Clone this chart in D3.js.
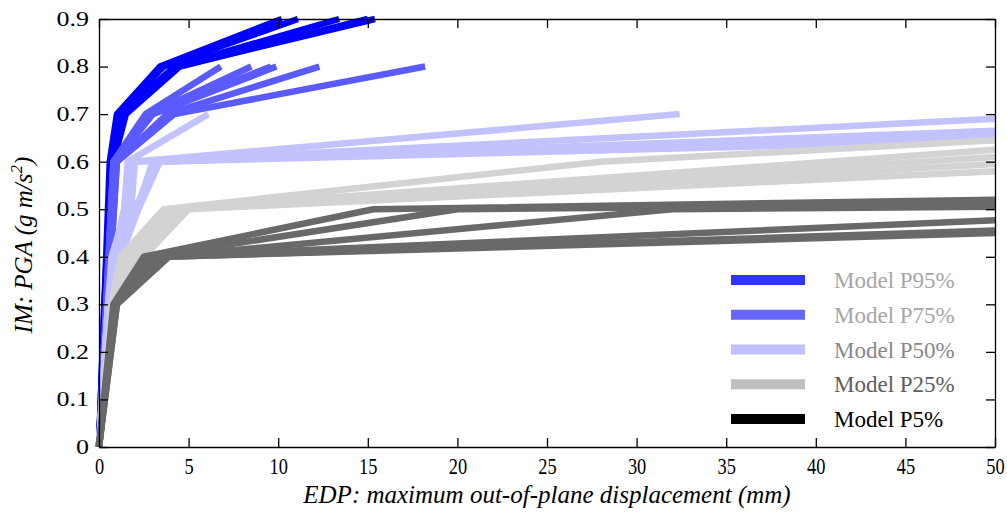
<!DOCTYPE html>
<html><head><meta charset="utf-8">
<script src="https://cdn.jsdelivr.net/npm/d3@7"></script>
<style>body{margin:0;background:#fff}</style>
</head><body>
<svg id="c" width="1007" height="515"></svg>
<script>
// ---- data ----
const seriesNames = ["Model P95%", "Model P75%", "Model P50%", "Model P25%", "Model P5%"];
const xTicks = [0, 5, 10, 15, 20, 25, 30, 35, 40, 45, 50];
const yTicks = [0, 0.1, 0.2, 0.3, 0.4, 0.5, 0.6, 0.7, 0.8, 0.9];
const xTitle = "EDP: maximum out-of-plane displacement (mm)";

// each curve: [EDP (mm), IM (g)] pairs
const p95Curves = [
  [[0,0],[0.3,0.3],[0.6,0.6],[1.0,0.7],[3.4,0.8],[10.2,0.9]],
  [[0,0],[0.3,0.3],[0.7,0.6],[1.1,0.7],[3.6,0.8],[11.1,0.9]],
  [[0,0],[0.35,0.3],[0.7,0.6],[1.3,0.7],[4.2,0.8],[13.4,0.9]],
  [[0,0],[0.35,0.3],[0.8,0.6],[1.5,0.7],[4.5,0.8],[15.0,0.9]],
  [[0,0],[0.4,0.3],[0.8,0.6],[1.4,0.7],[4.4,0.8],[15.4,0.9]]
];
const p75Curves = [
  [[0,0],[0.4,0.3],[0.8,0.6],[2.6,0.7],[6.8,0.8]],
  [[0,0],[0.4,0.3],[0.8,0.6],[2.8,0.7],[8.5,0.8]],
  [[0,0],[0.45,0.3],[0.9,0.6],[2.9,0.7],[9.6,0.8]],
  [[0,0],[0.45,0.3],[0.9,0.6],[3.0,0.7],[9.9,0.8]],
  [[0,0],[0.5,0.3],[1.0,0.6],[3.8,0.7],[12.3,0.8]],
  [[0,0],[0.5,0.3],[1.0,0.6],[4.2,0.7],[18.2,0.8]]
];
const p50Curves = [
  [[0,0],[0.5,0.3],[0.7,0.4],[1.5,0.5],[1.9,0.6],[32.4,0.7]],
  [[0,0],[0.5,0.3],[0.8,0.4],[1.4,0.5],[1.6,0.6],[6.1,0.7]],
  [[0,0],[0.5,0.3],[0.9,0.4],[1.8,0.5],[2.0,0.6],[50,0.69]],
  [[0,0],[0.55,0.3],[1.0,0.4],[2.0,0.5],[3.3,0.6],[50,0.665]],
  [[0,0],[0.55,0.3],[1.1,0.4],[2.1,0.5],[3.0,0.6],[50,0.655]],
  [[0,0],[0.6,0.3],[1.2,0.4],[2.2,0.5],[3.4,0.6],[50,0.645]]
];
const p25Curves = [
  [[0,0],[0.7,0.3],[1.2,0.4],[3.6,0.5],[28,0.6],[50,0.645]],
  [[0,0],[0.8,0.3],[1.5,0.4],[3.8,0.5],[50,0.625]],
  [[0,0],[0.8,0.3],[1.8,0.4],[4.3,0.5],[50,0.61]],
  [[0,0],[0.9,0.3],[2.2,0.4],[4.6,0.5],[50,0.595]],
  [[0,0],[0.9,0.3],[2.5,0.4],[5.0,0.5],[50,0.58]]
];
const p5Curves = [
  [[0,0],[0.8,0.3],[2.5,0.4],[15.3,0.5],[50,0.52]],
  [[0,0],[0.9,0.3],[2.8,0.4],[20,0.5],[50,0.51]],
  [[0,0],[0.9,0.3],[3.5,0.4],[32,0.5],[50,0.505]],
  [[0,0],[1.0,0.3],[3.0,0.4],[50,0.477]],
  [[0,0],[1.0,0.3],[3.9,0.4],[50,0.45]],
  [[0,0],[0.9,0.3],[3.7,0.4],[50,0.455]]
];

// ---- styles ----
const lineColors = ["#0000ff", "#5a5aff", "#c2c2ff", "#d3d3d3", "#696969"];
const legendColors = ["#3333ff", "#6666ff", "#c0c0ff", "#c0c0c0", "#000000"];
const legendTextColors = ["#a6a6a6", "#a6a6a6", "#888888", "#5e5e5e", "#000000"];

const allSeries = [p95Curves, p75Curves, p50Curves, p25Curves, p5Curves];

const svg = d3.select("#c");
const L = 99, R = 995, T = 19, B = 447;
const x = d3.scaleLinear().domain([0, 50]).range([L, R]);
const y = d3.scaleLinear().domain([0, 0.9]).range([B, T]);

const line = d3.line().x(d => x(d[0])).y(d => y(d[1]));
const plot = svg.append("g");
allSeries.forEach((curves, i) => {
  plot.append("g").selectAll("path").data(curves).join("path")
    .attr("d", line)
    .attr("fill", "none")
    .attr("stroke", lineColors[i])
    .attr("stroke-width", 6.5)
    .attr("stroke-linejoin", "round")
    .attr("stroke-linecap", "butt");
});

// axes
const font = "'Liberation Serif', 'Times New Roman', serif";
const gx = svg.append("g").attr("transform", `translate(0,${B})`)
  .call(d3.axisBottom(x).tickValues(xTicks).tickFormat(d3.format("d")).tickSizeInner(-9).tickSizeOuter(0).tickPadding(11));
const gy = svg.append("g").attr("transform", `translate(${L},0)`)
  .call(d3.axisLeft(y).tickValues(yTicks).tickFormat(d => d === 0 ? "0" : d3.format(".1f")(d)).tickSizeInner(-9).tickSizeOuter(0).tickPadding(10));
const gt = svg.append("g").attr("transform", `translate(0,${T})`)
  .call(d3.axisTop(x).tickValues(xTicks).tickFormat("").tickSizeInner(-9).tickSizeOuter(0));
const gr = svg.append("g").attr("transform", `translate(${R},0)`)
  .call(d3.axisRight(y).tickValues(yTicks).tickFormat("").tickSizeInner(-9).tickSizeOuter(0));
[gx, gy, gt, gr].forEach(g => {
  g.selectAll("path,line").attr("stroke", "#000").attr("stroke-width", 1.3);
  g.selectAll("text").attr("font-family", font).attr("fill", "#000");
});
// x tick labels: tall and narrow; y tick labels: wide
gx.selectAll(".tick text").attr("font-size", 23)
  .attr("transform", "scale(0.8,1)");
gy.selectAll(".tick text").each(function () {
  const t = d3.select(this);
  const tx = +t.attr("x");
  t.attr("x", 0).attr("font-size", 20).attr("transform", `translate(${tx},0) scale(1.3,1)`);
});

// titles
svg.append("text").attr("x", (L + R) / 2).attr("y", 503)
  .attr("text-anchor", "middle").attr("font-family", font).attr("font-style", "italic")
  .attr("font-size", 25).text(xTitle);
const yt = svg.append("text").attr("transform", `translate(32,${(T + B) / 2 + 12}) rotate(-90)`)
  .attr("text-anchor", "middle").attr("font-family", font).attr("font-style", "italic")
  .attr("font-size", 25);
yt.append("tspan").text("IM: PGA (g m/s");
yt.append("tspan").attr("dy", -10).attr("font-size", 17).text("2");
yt.append("tspan").attr("dy", 10).text(")");

// legend
const lg = svg.append("g");
const legendY = d3.scalePoint().domain(seriesNames).range([280, 419]);
seriesNames.forEach((n, i) => {
  lg.append("line").attr("x1", 731).attr("x2", 805)
    .attr("y1", legendY(n)).attr("y2", legendY(n))
    .attr("stroke", legendColors[i]).attr("stroke-width", 10);
  lg.append("text").attr("x", 834).attr("y", legendY(n)).attr("dy", "0.35em")
    .attr("font-family", font)
    .attr("font-size", 23).attr("fill", legendTextColors[i]).text(n);
});
</script>
</body></html>
